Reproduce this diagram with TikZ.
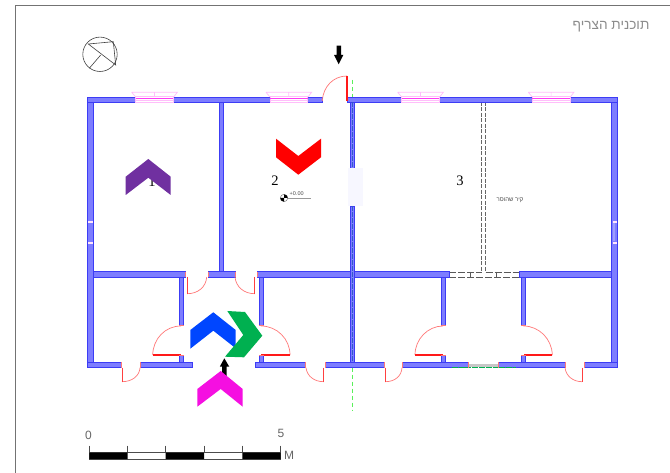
\documentclass[tikz,border=0pt]{standalone}
\usepackage{fontspec}
\setmainfont{Liberation Serif}
\newfontfamily\hebfont[Script=Hebrew]{Liberation Sans}
\newfontfamily\scalefont{Liberation Sans}
\TeXXeTstate=1
\definecolor{wallfill}{RGB}{125,125,255}
\definecolor{wallline}{RGB}{60,60,245}
\definecolor{doorred}{RGB}{255,120,120}
\definecolor{winpink}{RGB}{255,190,250}
\definecolor{winmag}{RGB}{255,60,245}
\definecolor{chpurple}{RGB}{112,48,160}
\definecolor{chgreen}{RGB}{0,176,80}
\definecolor{chblue}{RGB}{0,70,255}
\definecolor{chmag}{RGB}{245,15,225}
\definecolor{guide}{RGB}{90,240,90}
\definecolor{greytext}{RGB}{140,140,140}
\definecolor{centreline}{RGB}{50,90,200}
\tikzset{
 wallbox/.style={fill=wallfill,draw=wallline,line width=0.6pt},
 arcline/.style={draw=doorred,line width=0.7pt},
 leafline/.style={draw=red!90!white,line width=1.1pt},
 smallleaf/.style={draw=red!75!white,line width=0.8pt},
 jamb/.style={draw=doorred,line width=0.8pt},
 winframe/.style={draw=winpink,line width=0.7pt},
 dashwall/.style={draw=black!60,line width=0.8pt,dash pattern=on 4pt off 1.5pt},
 dashwallh/.style={draw=black!65,line width=0.8pt,dash pattern=on 7pt off 2pt},
 guideline/.style={draw=guide,line width=0.7pt,dash pattern=on 4pt off 3pt},
 hebtitle/.style={font=\hebfont\fontsize{13.6}{15}\selectfont,text=greytext,inner sep=0pt},
 roomlabel/.style={font=\fontsize{14.5}{16}\selectfont,text=black,inner sep=0pt},
 scaletext/.style={font=\scalefont\fontsize{12}{13}\selectfont,text=black!60,inner sep=0pt},
}
\newcommand{\wall}[4]{\path[wallbox] (#1,#2) rectangle (#3,#4);}
\newcommand{\window}[1]{%
 \begin{scope}[shift={(#1,0)}]
  \path[fill=white,winframe] (0,96.7) rectangle (37.6,102.3);
  \draw[winframe] (-4,92.3) -- (41.6,92.3) -- (38,97) (-4,92.3) -- (0,97) (18.8,92.3) -- (18.8,97);
  \draw[winmag,line width=1pt] (0,98.6) -- (37.6,98.6);
  \draw[winpink,line width=0.6pt] (0,100.4) -- (37.6,100.4);
 \end{scope}}
\begin{document}
\begin{tikzpicture}[x=1pt,y=-1pt]
\useasboundingbox (0,0) rectangle (670,473);
\fill[white] (0,0) rectangle (670,473);
% frame
\draw[black!55,line width=0.9pt] (15,473) -- (15,5) -- (670,5);
% title
\node[hebtitle] (title) at (611,27) {\beginR תוכנית הצריף\endR};
% north sign
\draw[black!75,line width=0.6pt] (100,54.3) circle (17.2);
\draw[black!75,line width=0.6pt] (88.3,44) -- (113.3,41.7) -- (115.7,65) -- cycle;
\draw[black!75,line width=0.6pt] (100.7,55) -- (89.3,68.3);
% room labels
\node[roomlabel] (r1) at (152,182) {1};
\node[roomlabel] (r2) at (275,181) {2};
\node[roomlabel] (r3) at (460,181) {3};
% dashed wall
\draw[dashwall] (481.7,102) -- (481.7,272) (485.7,102) -- (485.7,272);
\draw[dashwallh] (449,272) -- (481.7,272) (485.7,272) -- (519,272);
\draw[dashwallh] (449,277) -- (519,277);
\draw[black!65,line width=0.7pt] (470.7,272) -- (470.7,277) (496.7,272) -- (496.7,277);
\node[font=\hebfont\fontsize{6}{7}\selectfont,text=black!70,inner sep=0pt] (shifted) at (510,200) {\beginR קיר שהוסר\endR};
% outer walls
\wall{87}{97}{135.7}{102.3}
\wall{173.3}{97}{270}{102.3}
\wall{307.7}{97}{322.3}{102.3}
\wall{347.7}{97}{401.7}{102.3}
\wall{439.3}{97}{532.3}{102.3}
\wall{570}{97}{617.7}{102.3}
\wall{87}{102.3}{93.3}{362.3}
\wall{611.7}{102.3}{617.7}{362.3}
\wall{87}{362.3}{121}{367.7}
\wall{140.7}{362.3}{192.7}{367.7}
\wall{255}{362.3}{305.7}{367.7}
\wall{325}{362.3}{384.3}{367.7}
\wall{402.7}{362.3}{468.3}{367.7}
\wall{498.3}{362.3}{565}{367.7}
\wall{584.3}{362.3}{617.7}{367.7}
% pale marks on side walls
\foreach \yy in {222,243}{
 \fill[white!60!winpink] (88,\yy-1.2) rectangle (92.5,\yy+1.2);
 \fill[white!60!winpink] (612.5,\yy-1.2) rectangle (617,\yy+1.2);
}
\fill[white!25!wallfill] (613,223.5) rectangle (614.5,241.5);
% inner walls
\wall{93.3}{271.7}{185.7}{277.3}
\wall{208.3}{271.7}{235}{277.3}
\wall{257.3}{271.7}{449}{277.3}
\wall{519}{271.7}{611.7}{277.3}
\wall{219}{102.3}{223}{271.7}
\wall{350.5}{102.3}{354.2}{168}
\wall{350.5}{206}{354.2}{362.3}
\wall{179}{277.3}{183.7}{325}
\wall{179}{355.5}{183.7}{362.3}
\wall{259}{277.3}{263.7}{325}
\wall{259}{355.5}{263.7}{362.3}
\wall{441}{277.3}{445.7}{325}
\wall{441}{355.5}{445.7}{362.3}
\wall{521.3}{277.3}{525.7}{325}
\wall{521.3}{355.5}{525.7}{362.3}
\fill[blue!3] (347.7,168) rectangle (363.3,206);
% windows
\window{135.7}
\window{270}
\window{401.7}
\window{532.3}
% bottom window
\fill[black!22] (468.3,364.5) rectangle (498.3,366.5);
\draw[chgreen,line width=1.3pt,dash pattern=on 6pt off 0.8pt] (451.7,367.5) -- (515.7,367.5);
% guides
\draw[guideline] (352,80) -- (352,97);
\draw[guideline] (352,367.7) -- (352,410);
\draw[centreline,line width=0.6pt,dash pattern=on 5pt off 1pt] (352,102.3) -- (352,168) (352,206) -- (352,362);
% doors: top
\draw[arcline] (322.3,101) .. controls (323,87) and (333,76) .. (347,76);
\draw[leafline] (347,76) -- (347,101.5);
% doors: mid
\draw[arcline] (206.7,277) .. controls (206,287) and (198,293.7) .. (187.3,293.7);
\draw[smallleaf] (187.3,277) -- (187.3,293.7);
\draw[arcline] (235,277) .. controls (236,287) and (244,293.7) .. (254.7,293.7);
\draw[smallleaf] (254.7,277) -- (254.7,293.7);
% doors: bottom
\draw[arcline] (140,367.7) .. controls (139.5,376) and (132,381.7) .. (122,381.7);
\draw[smallleaf] (122,367.7) -- (122,381.7);
\draw[arcline] (306,367.7) .. controls (307,376) and (314,381.7) .. (323.7,381.7);
\draw[smallleaf] (323.7,367.7) -- (323.7,381.7);
\draw[arcline] (402,367.7) .. controls (401.5,376) and (395,381.7) .. (385.3,381.7);
\draw[smallleaf] (385.3,367.7) -- (385.3,381.7);
\draw[arcline] (565,367.7) .. controls (566,376) and (573,381.7) .. (582,381.7);
\draw[smallleaf] (582,367.7) -- (582,381.7);
% door jambs
\foreach \xa in {185.7,208.3,235,257.3}{\draw[jamb] (\xa,271.7) -- (\xa,277.3);}
\foreach \xa in {121,140.7,305.7,325,384.3,402.7,468.3,498.3,565,584.3}{\draw[jamb] (\xa,362.3) -- (\xa,367.7);}
% lobby doors
\draw[arcline] (152.7,355) .. controls (153,339) and (165,326) .. (181,326);
\draw[leafline] (152.7,355) -- (181,355);
\draw[arcline] (290,355) .. controls (290,339) and (277,326) .. (261,326);
\draw[leafline] (290,355) -- (261,355);
\draw[arcline] (415,355) .. controls (415,339) and (428,326) .. (443,326);
\draw[leafline] (415,355) -- (443,355);
\draw[arcline] (552.3,355) .. controls (552,339) and (539,326) .. (523.5,326);
\draw[leafline] (552.3,355) -- (523.5,355);
\foreach \xb/\xc in {179/183.7,259/263.7,441/445.7,521.3/525.7}{
 \draw[jamb] (\xb,325) -- (\xc,325) (\xb,355.5) -- (\xc,355.5);
}
% level mark
\draw[black!40,line width=0.4pt] (284,198) -- (311,198);
\node[font=\scalefont\fontsize{5.5}{6}\selectfont,text=black!70,inner sep=0pt] (level) at (296.7,194) {+0.00};
\draw[black!60,line width=0.4pt,fill=white] (284,198) circle (3.7);
\fill[black] (284,198) -- (287.7,198) -- (287,195.7) -- (284,194.3) -- cycle;
\fill[black] (284,198) -- (280.3,198) -- (281,200.3) -- (284,201.7) -- cycle;
% arrows
\fill[black] (336.7,45.7) -- (341,45.7) -- (341,55) -- (343.3,55) -- (338.7,64.3) -- (334,55) -- (336.7,55) -- cycle;
\fill[black] (222,376) -- (226.5,376) -- (226.5,366.7) -- (229.3,366.7) -- (224.3,358.3) -- (219.8,366.7) -- (222,366.7) -- cycle;
% chevrons
\fill[chpurple] (148.3,159) -- (170.7,176.7) -- (170.7,195) -- (148.3,177.7) -- (125.7,195) -- (125.7,176.7) -- cycle;
\fill[red] (276,138.7) -- (298.3,156) -- (321,138.7) -- (321,157.3) -- (298.3,174.7) -- (276,157.3) -- cycle;
\fill[chblue] (213.3,312.3) -- (235.7,330) -- (235.7,348.3) -- (213.3,330.7) -- (190.3,348.7) -- (190.3,330) -- cycle;
\fill[chgreen] (227.3,311) -- (245,312) -- (262.3,335.7) -- (244,357.3) -- (225,356.7) -- (243.3,335) -- cycle;
\fill[chmag] (220.7,371) -- (242.7,389) -- (242.7,406.7) -- (220.7,389) -- (197.3,406.7) -- (197.3,389) -- cycle;
% scale bar
\draw[black!70,line width=0.6pt] (89.3,445.7) -- (89.3,459) (127.7,445.7) -- (127.7,452.5) (165.7,445.7) -- (165.7,452.5) (204,445.7) -- (204,452.5) (242.3,445.7) -- (242.3,452.5) (280.7,445.7) -- (280.7,459);
\draw[black!70,line width=0.5pt] (89.3,452.5) rectangle (280.7,459);
\fill[black] (89.3,452.5) rectangle (127.7,459) (165.7,452.5) rectangle (204,459) (242.3,452.5) rectangle (280.7,459);
\node[scaletext] (s0) at (88.5,435) {0};
\node[scaletext] (s5) at (281,433) {5};
\node[scaletext] (sm) at (289,455) {M};
\end{tikzpicture}
\end{document}
